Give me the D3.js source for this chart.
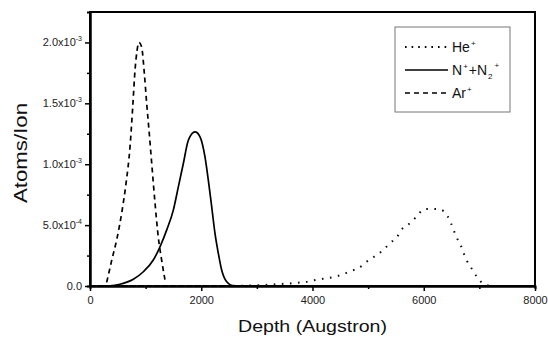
<!DOCTYPE html>
<html>
<head>
<meta charset="utf-8">
<script src="https://cdn.jsdelivr.net/npm/d3@7"></script>
<style>
  body { margin: 0; background: #fff; }
  svg { font-family: "Liberation Sans", Arial, sans-serif; }
</style>
</head>
<body>
<svg id="chart" width="548" height="337"></svg>
<script>
// depth in Angstrom, value in atoms/ion
const heDepth = [100, 1000, 2000, 2800, 3417, 3560, 3721, 3847, 3985, 4117, 4261, 4405, 4548, 4687, 4836, 4974, 5124, 5250, 5393, 5519, 5609, 5753, 5879, 6004, 6148, 6274, 6418, 6490, 6544, 6598, 6670, 6724, 6778, 6868, 6958, 7083, 7227];
const heValue = [0, 0, 0, 0.000003, 0.000016, 0.00002, 0.000027, 0.00003, 0.000044, 0.000055, 0.000063, 0.000077, 0.000096, 0.000123, 0.000148, 0.0002, 0.000246, 0.000287, 0.000352, 0.000402, 0.000467, 0.000516, 0.000574, 0.000631, 0.000633, 0.000631, 0.000582, 0.000516, 0.000451, 0.000393, 0.000328, 0.000262, 0.000205, 0.000139, 0.000074, 0.000016, 0];

const nDepth = [230, 360, 539, 779, 959, 1138, 1258, 1378, 1498, 1588, 1678, 1768, 1888, 1978, 2067, 2127, 2188, 2247, 2307, 2367, 2457, 2577, 3000];
const nValue = [0, 0.000001, 0.000014, 0.000055, 0.000117, 0.000213, 0.000322, 0.000459, 0.000623, 0.000814, 0.001006, 0.001197, 0.001265, 0.001224, 0.00106, 0.000869, 0.00065, 0.000432, 0.000268, 0.000131, 0.000035, 0.000002, 0];

const arDepth = [300, 390, 480, 570, 647, 719, 768, 809, 845, 880, 929, 976, 1019, 1066, 1109, 1169, 1228, 1289, 1348];
const arValue = [0.00003, 0.00021, 0.00038, 0.0006, 0.00084, 0.00114, 0.00147, 0.00177, 0.00193, 0.002, 0.00196, 0.00175, 0.0015, 0.00125, 0.00101, 0.00068, 0.0004, 0.00021, 0.00005];

const xTicks = [0, 2000, 4000, 6000, 8000];
const xMinor = [1000, 3000, 5000, 7000];
const yTicks = [0, 0.0005, 0.001, 0.0015, 0.002];
const yMinor = [0.00025, 0.00075, 0.00125, 0.00175];
const yTickMantissa = ["0.0", "5.0x10", "1.0x10", "1.5x10", "2.0x10"];
const yTickExponent = ["", "-4", "-3", "-3", "-3"];

const seriesNames = ["He", "N", "Ar"];

const svg = d3.select("#chart");
const margin = {left: 90, right: 13, top: 12, bottom: 51};
const W = 548, H = 337;

const x = d3.scaleLinear().domain([0, 8000]).range([margin.left, W - margin.right]);
const y = d3.scaleLinear().domain([0, 0.00225]).range([H - margin.bottom, margin.top]);

// frame
svg.append("rect")
  .attr("x", x(0)).attr("y", y(0.00225))
  .attr("width", x(8000) - x(0)).attr("height", y(0) - y(0.00225))
  .attr("fill", "none").attr("stroke", "#000").attr("stroke-width", 2);

// x axis
const gx = svg.append("g").attr("transform", "translate(0," + y(0) + ")");
gx.call(d3.axisBottom(x).tickValues(xTicks).tickSize(5).tickSizeOuter(0).tickFormat(d3.format("d")));
gx.append("g").call(d3.axisBottom(x).tickValues(xMinor).tickSize(3).tickFormat(""));
gx.selectAll(".domain").attr("stroke-width", 2);
gx.selectAll("line").attr("stroke-width", 1.5);
gx.selectAll("text").attr("font-size", 11).attr("fill", "#222").attr("dy", "0.9em")
  .attr("font-family", "Liberation Sans, Arial, sans-serif");

// y axis
const gy = svg.append("g").attr("transform", "translate(" + x(0) + ",0)");
gy.call(d3.axisLeft(y).tickValues(yTicks).tickSize(5).tickSizeOuter(0).tickFormat(""));
gy.append("g").call(d3.axisLeft(y).tickValues(yMinor).tickSize(3).tickFormat(""));
gy.selectAll(".domain").attr("stroke-width", 2);
gy.selectAll("line").attr("stroke-width", 1.5);

yTicks.forEach((v, i) => {
  const t = svg.append("text")
    .attr("x", x(0) - 8).attr("y", y(v) + 4)
    .attr("text-anchor", "end")
    .attr("font-size", 11).attr("fill", "#222");
  t.append("tspan").text(yTickMantissa[i]);
  if (yTickExponent[i]) {
    t.append("tspan").attr("font-size", 7).attr("dy", -5).text(yTickExponent[i]);
  }
});

// axis titles
svg.append("text")
  .attr("x", 312.5).attr("y", 332)
  .attr("text-anchor", "middle").attr("font-size", 17).attr("fill", "#111")
  .attr("textLength", 149).attr("lengthAdjust", "spacingAndGlyphs")
  .text("Depth (Augstron)");
svg.append("text")
  .attr("transform", "translate(27,153) rotate(-90)")
  .attr("text-anchor", "middle").attr("font-size", 18).attr("fill", "#111")
  .attr("textLength", 100).attr("lengthAdjust", "spacingAndGlyphs")
  .text("Atoms/Ion");

// curves
const line = d3.line().x(d => x(d[0])).y(d => y(d[1])).curve(d3.curveMonotoneX);

svg.append("path")
  .datum(d3.zip(heDepth, heValue))
  .attr("d", line).attr("fill", "none").attr("stroke", "#111")
  .attr("stroke-width", 2).attr("stroke-dasharray", "1.6,6.5");

svg.append("path")
  .datum(d3.zip(nDepth, nValue))
  .attr("d", line).attr("fill", "none").attr("stroke", "#000")
  .attr("stroke-width", 1.7);

svg.append("path")
  .datum(d3.zip(arDepth, arValue))
  .attr("d", line).attr("fill", "none").attr("stroke", "#000")
  .attr("stroke-width", 1.7).attr("stroke-dasharray", "5,4");

// legend
const lg = svg.append("g");
lg.append("rect").attr("x", 395).attr("y", 27).attr("width", 115).attr("height", 85)
  .attr("fill", "#fff").attr("stroke", "#777").attr("stroke-width", 1);

const legendDash = ["1.6,5", null, "5,4"];
const legendWidth = [2, 1.7, 1.7];
seriesNames.forEach((name, i) => {
  const ly = 47 + i * 23;
  lg.append("line").attr("x1", 405).attr("x2", 448).attr("y1", ly).attr("y2", ly)
    .attr("stroke", "#000").attr("stroke-width", legendWidth[i])
    .attr("stroke-dasharray", legendDash[i]);
  const t = lg.append("text").attr("x", 452).attr("y", ly + 5)
    .attr("font-size", 14).attr("fill", "#111");
  if (name === "He") {
    t.append("tspan").text("He");
    t.append("tspan").attr("font-size", 8).attr("dy", -6).attr("dx", 1).text("+");
  } else if (name === "N") {
    t.append("tspan").text("N");
    t.append("tspan").attr("font-size", 8).attr("dy", -6).attr("dx", 1).text("+");
    t.append("tspan").attr("dy", 6).attr("dx", 1).text("+N");
    t.append("tspan").attr("font-size", 8).attr("dy", 4).attr("dx", 1).text("2");
    t.append("tspan").attr("font-size", 8).attr("dy", -11).attr("dx", 2).text("+");
  } else {
    t.append("tspan").text("Ar");
    t.append("tspan").attr("font-size", 8).attr("dy", -6).attr("dx", 1).text("+");
  }
});
</script>
</body>
</html>
